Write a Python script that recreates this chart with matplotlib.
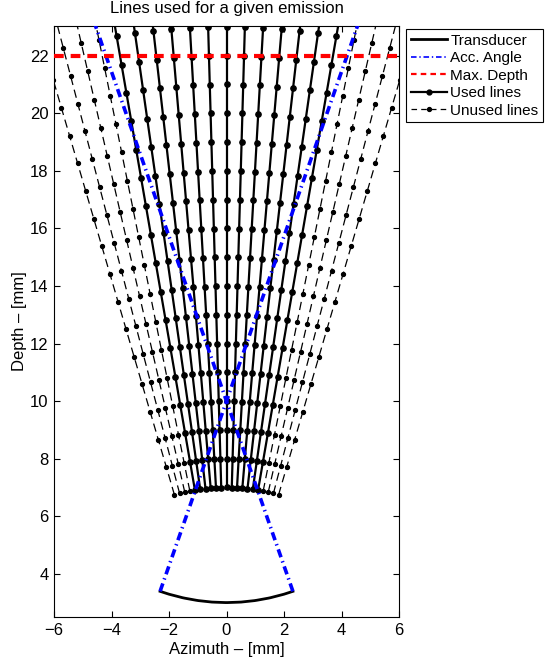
import numpy as np
import matplotlib
matplotlib.use('Agg')
import matplotlib.pyplot as plt
from matplotlib.lines import Line2D

plt.rcParams['font.family'] = ['Liberation Sans', 'DejaVu Sans']
plt.rcParams['lines.scale_dashes'] = False

# geometry (mm)
apex_y = 0.55                      # where the scan lines converge
line_angles = [-16.3, -14.65, -13.0, -11.4, -9.8, -8.15, -6.5, -4.9, -3.25, -1.63, 0.0,
               1.63, 3.25, 4.9, 6.5, 8.15, 9.8, 11.4, 13.0, 14.65, 16.3]
line_used = [0, 0, 0, 0, 1, 1, 1, 1, 1, 1, 1, 1, 1, 1, 1, 1, 1, 0, 0, 0, 0]
sample_r = [6.45, 7.45, 8.45, 9.45, 10.45, 11.45, 12.45, 13.45, 14.45, 15.45, 16.45,
            17.45, 18.45, 19.45, 20.45, 21.45, 22.45, 23.45, 24.45]

focus_y = 10.0                     # transducer curvature centre / focus
trans_radius = 7.0
trans_x = [-2.31, -2.0, -1.5, -1.0, -0.5, 0.0, 0.5, 1.0, 1.5, 2.0, 2.31]
acc_top_y = 23.5
max_depth = 22.0

fig = plt.figure(figsize=(5.55, 6.64), dpi=100)
ax = fig.add_axes([54 / 555, 47 / 664, 345 / 555, 591 / 664])

# scan lines
r = np.array(sample_r)
for ang, used in zip(line_angles, line_used):
    t = np.deg2rad(ang)
    x = r * np.sin(t)
    y = apex_y + r * np.cos(t)
    if used:
        ax.plot(x, y, '-', color='k', lw=1.6, marker='o', ms=3.8, zorder=3)
    else:
        ax.plot(x, y, '--', color='k', lw=0.9, dashes=(6, 3.5), marker='o', ms=2.8, zorder=2)

# transducer
tx = np.array(trans_x)
ty = focus_y - np.sqrt(trans_radius ** 2 - tx ** 2)
tx_f = np.linspace(tx[0], tx[-1], 60)
ax.plot(tx_f, np.interp(tx_f, tx, ty), '-', color='k', lw=2.0, zorder=4)

# acceptance angle lines: from aperture edges through the focus
for side in (-1, 1):
    x0, y0 = side * trans_x[-1], ty[-1]
    slope = (0 - x0) / (focus_y - y0)
    ax.plot([x0, x0 + slope * (acc_top_y - y0)], [y0, acc_top_y], '-.', color='b',
            lw=2.6, dashes=(6, 3, 1, 3), zorder=5)

# max depth
ax.plot([-6, 6], [max_depth, max_depth], '--', color='r', lw=3.0, dashes=(7, 5), zorder=6)

ax.set_xlim(-6, 6)
ax.set_ylim(2.5, 23.03)
ax.set_xticks(np.arange(-6, 7, 2))
ax.set_yticks(np.arange(4, 23, 2))
ax.tick_params(direction='in', top=True, right=True, length=4, width=0.8, labelsize=12, pad=4)
ax.set_xticklabels(['\u22126', '\u22124', '\u22122', '0', '2', '4', '6'])
for s in ax.spines.values():
    s.set_linewidth(0.8)

ax.set_title('Lines used for a given emission', fontsize=12, pad=9)
ax.set_xlabel('Azimuth \u2013 [mm]', fontsize=12, labelpad=3)
ax.set_ylabel('Depth \u2013 [mm]', fontsize=12, labelpad=2)

handles = [
    Line2D([], [], color='k', lw=2.0),
    Line2D([], [], color='b', lw=1.2, ls='-.', dashes=(4, 2, 1, 2)),
    Line2D([], [], color='r', lw=1.6, ls='--', dashes=(4, 3)),
    Line2D([], [], color='k', lw=1.6, marker='o', ms=3.5),
    Line2D([], [], color='k', lw=0.9, ls='--', dashes=(4, 3), marker='o', ms=2.8),
]
labels = ['Transducer', 'Acc. Angle', 'Max. Depth', 'Used lines', 'Unused lines']
leg = fig.legend(handles, labels, loc='upper left', bbox_to_anchor=(406 / 555, 1 - 29 / 664),
                 fontsize=11, frameon=True, fancybox=False, framealpha=1, edgecolor='k',
                 handlelength=2.4, handletextpad=0.2, borderpad=0.3, labelspacing=0.23,
                 borderaxespad=0, numpoints=1)
leg.get_frame().set_linewidth(0.8)

fig.savefig('out.png', dpi=100)
